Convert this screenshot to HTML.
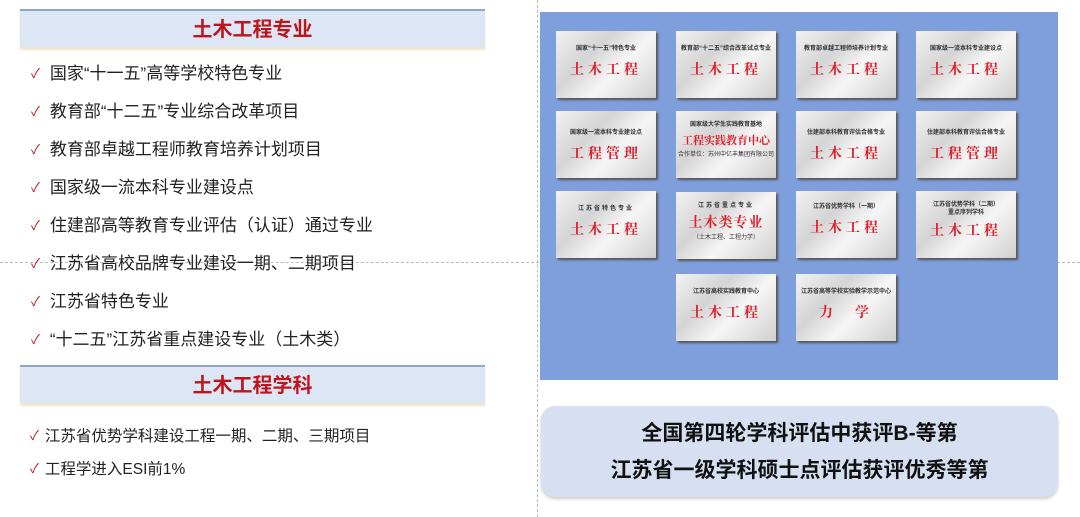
<!DOCTYPE html>
<html><head><meta charset="utf-8"><style>
body{margin:0;width:1080px;height:517px;background:#fff;position:relative;overflow:hidden;font-family:"Liberation Sans","Noto Sans CJK SC",sans-serif}
.abs{position:absolute}
.hdr{position:absolute;left:20px;width:465px;height:36px;background:#dce6f4;border-top:2px solid #8ea6c8;box-shadow:0 3px 2px #eee4cc;color:#c0141c;font-weight:bold;font-size:20px;text-align:center;line-height:38px}
.it{position:absolute;left:31px;font-size:17px;color:#222;white-space:nowrap}
.it b{color:#c0141c;font-weight:normal;font-size:13px;margin-right:10px;position:relative;top:-1px}
.it2{font-size:15.5px;left:30px}
.it2 b{margin-right:6px}
.pl{position:absolute;width:100px;height:67px;background:linear-gradient(135deg,#f2f2f2 0%,#d4d4d4 35%,#f6f6f6 60%,#cfcfcf 100%);box-shadow:2px 2px 2px #555;text-align:center}
.pl .s{font-size:6px;color:#333;font-weight:bold;margin-top:14px;line-height:8px}
.pl .r{font-size:14px;color:#e0202a;letter-spacing:4px;margin-top:6px;font-family:"Noto Serif CJK SC",serif;font-weight:bold}
</style></head><body>
<div class="abs" style="left:0;top:262px;width:1080px;border-top:1px dashed #bbb"></div>
<div class="abs" style="left:537px;top:0;height:517px;border-left:1px dashed #bbb"></div>
<div class="hdr" style="top:9px">土木工程专业</div>
<div class="it" style="top:59px"><b>✓</b>国家“十一五”高等学校特色专业</div>
<div class="it" style="top:97px"><b>✓</b>教育部“十二五”专业综合改革项目</div>
<div class="it" style="top:135px"><b>✓</b>教育部卓越工程师教育培养计划项目</div>
<div class="it" style="top:173px"><b>✓</b>国家级一流本科专业建设点</div>
<div class="it" style="top:211px"><b>✓</b>住建部高等教育专业评估（认证）通过专业</div>
<div class="it" style="top:249px"><b>✓</b>江苏省高校品牌专业建设一期、二期项目</div>
<div class="it" style="top:287px"><b>✓</b>江苏省特色专业</div>
<div class="it" style="top:325px"><b>✓</b>“十二五”江苏省重点建设专业（土木类）</div>
<div class="hdr" style="top:365px">土木工程学科</div>
<div class="it it2" style="top:424px"><b>✓</b>江苏省优势学科建设工程一期、二期、三期项目</div>
<div class="it it2" style="top:457px"><b>✓</b>工程学进入ESI前1%</div>
<div class="abs" style="left:540px;top:12px;width:518px;height:368px;background:#7e9fdc"></div>
<div class="pl" style="left:556px;top:31px"><div class="s">国家“十一五”特色专业</div><div class="r">土木工程</div></div>
<div class="pl" style="left:676px;top:31px"><div class="s">教育部“十二五”综合改革试点专业</div><div class="r">土木工程</div></div>
<div class="pl" style="left:796px;top:31px"><div class="s">教育部卓越工程师培养计划专业</div><div class="r">土木工程</div></div>
<div class="pl" style="left:916px;top:31px"><div class="s">国家级一流本科专业建设点</div><div class="r">土木工程</div></div>
<div class="pl" style="left:556px;top:111px"><div class="s" style="margin-top:18px">国家级一流本科专业建设点</div><div class="r">工程管理</div></div>
<div class="pl" style="left:676px;top:111px"><div class="s" style="margin-top:10px">国家级大学生实践教育基地</div><div class="r" style="font-size:11px;letter-spacing:0;margin-top:3px">工程实践教育中心</div><div class="s" style="margin-top:3px;font-weight:normal">合作单位：苏州中亿丰集团有限公司</div></div>
<div class="pl" style="left:796px;top:111px"><div class="s" style="margin-top:18px">住建部本科教育评估合格专业</div><div class="r">土木工程</div></div>
<div class="pl" style="left:916px;top:111px"><div class="s" style="margin-top:18px">住建部本科教育评估合格专业</div><div class="r">工程管理</div></div>
<div class="pl" style="left:556px;top:191px"><div class="s" style="letter-spacing:2px">江苏省特色专业</div><div class="r">土木工程</div></div>
<div class="pl" style="left:676px;top:192px"><div class="s" style="margin-top:10px;letter-spacing:2px">江苏省重点专业</div><div class="r" style="margin-top:2px;letter-spacing:1px">土木类专业</div><div class="s" style="margin-top:2px;font-weight:normal">（土木工程、工程力学）</div></div>
<div class="pl" style="left:796px;top:191px"><div class="s" style="margin-top:12px">江苏省优势学科（一期）</div><div class="r">土木工程</div></div>
<div class="pl" style="left:916px;top:191px"><div class="s" style="margin-top:10px">江苏省优势学科（二期）<br>重点序列学科</div><div class="r" style="margin-top:3px">土木工程</div></div>
<div class="pl" style="left:676px;top:274px"><div class="s">江苏省高校实践教育中心</div><div class="r">土木工程</div></div>
<div class="pl" style="left:796px;top:274px"><div class="s">江苏省高等学校实验教学示范中心</div><div class="r">力　学</div></div>
<div class="abs" style="left:541px;top:406px;width:517px;height:91px;background:#d6e0f2;border-radius:14px;box-shadow:0 2px 3px #ccc;text-align:center;font-weight:bold;font-size:21px;color:#111;line-height:37px;padding-top:9px;box-sizing:border-box">全国第四轮学科评估中获评B-等第<br>江苏省一级学科硕士点评估获评优秀等第</div>
</body></html>
